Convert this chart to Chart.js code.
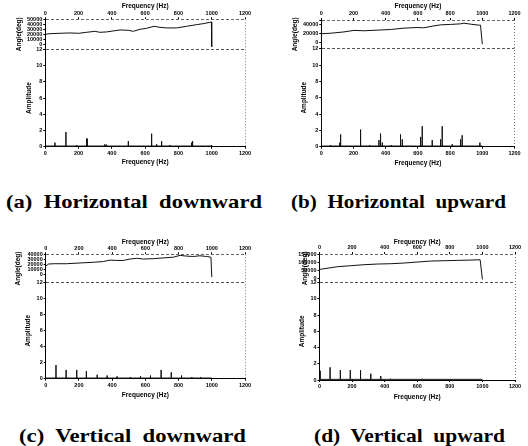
<!DOCTYPE html>
<html><head><meta charset="utf-8">
<script src="https://cdn.jsdelivr.net/npm/chart.js@4.4.1/dist/chart.umd.min.js"></script>
<style>
html,body{margin:0;padding:0;background:#fff;width:528px;height:446px;overflow:hidden;position:relative}
.p{position:absolute}
.p canvas{display:block}
.cap{position:absolute;font-family:"Liberation Serif","Times New Roman",serif;font-weight:bold;font-size:19px;line-height:20px;white-space:pre;color:#000;transform-origin:0 50%}
</style></head><body>
<div class="p" id="pa" style="left:0;top:0"><canvas id="ca"></canvas></div>
<div class="p" id="pb" style="left:264px;top:0"><canvas id="cb"></canvas></div>
<div class="p" id="pc" style="left:0;top:236px"><canvas id="cc"></canvas></div>
<div class="p" id="pd" style="left:264px;top:236px"><canvas id="cd"></canvas></div>
<div class="cap" id="capA" style="left:6px;top:192px">(a)  Horizontal  downward</div>
<div class="cap" id="capB" style="left:291px;top:192px">(b)  Horizontal  upward</div>
<div class="cap" id="capC" style="left:19px;top:426px">(c)  Vertical  downward</div>
<div class="cap" id="capD" style="left:314px;top:426px">(d)  Vertical  upward</div>
<script>
// ---------- data ----------
const freqTicks = [0, 200, 400, 600, 800, 1000, 1200];
const ampTicks = [0, 2, 4, 6, 8, 10, 12];
const noiseFloor = 0.08;
const noiseEnd = 1000;

// (a) Horizontal downward
const aAngleFreq = [0, 28, 88, 148, 200, 248, 298, 328, 368, 419, 449, 499, 529, 569, 609, 653, 689, 729, 789, 849, 909, 949, 990, 998, 1000];
const aAngleDeg  = [20000, 21300, 22000, 22700, 22000, 24000, 26000, 24000, 24700, 27300, 28700, 28000, 26000, 30000, 32000, 36000, 34000, 32700, 32700, 36000, 39300, 41300, 44000, 44700, -5000];
const aAngleTicks = [-10000, 0, 10000, 20000, 30000, 40000, 50000];
const aAngleLabels = [0, 10000, 20000, 30000, 40000, 50000];
const aSpikeFreq = [58, 124, 188, 248, 252, 358, 368, 499, 639, 669, 699, 749, 879, 885, 999];
const aSpikeAmp  = [0.5, 1.8, 0.2, 1.0, 1.0, 0.3, 0.25, 0.7, 1.6, 0.3, 0.7, 0.2, 0.5, 0.7, 0.2];

// (b) Horizontal upward
const bAngleFreq = [0, 58, 141, 203, 265, 348, 430, 513, 596, 637, 689, 741, 803, 865, 886, 927, 979, 989, 1000];
const bAngleDeg  = [19000, 20000, 23000, 26500, 25600, 27000, 28500, 31500, 33000, 32300, 36000, 39000, 40000, 41300, 42800, 40600, 38300, 38300, -5000];
const bAngleTicks = [-15000, 0, 20000, 40000, 50000];
const bAngleLabels = [0, 20000, 40000];
const bSpikeFreq = [0, 58, 115, 120, 244, 300, 358, 368, 379, 435, 492, 503, 617, 627, 689, 741, 751, 813, 865, 875, 985];
const bSpikeAmp  = [6.8, 0.2, 0.5, 1.5, 2.1, 0.2, 0.8, 1.6, 0.5, 0.2, 1.5, 0.9, 1.2, 2.5, 0.8, 0.9, 2.5, 0.3, 0.9, 1.4, 0.5];

// (c) Vertical downward
const cAngleFreq = [0, 16, 46, 126, 207, 287, 347, 387, 428, 468, 508, 548, 588, 648, 708, 769, 809, 849, 889, 929, 969, 995, 1000];
const cAngleDeg  = [16400, 20700, 21400, 21400, 22900, 24300, 25700, 28600, 27900, 27900, 30700, 32100, 30700, 31400, 32900, 34300, 37900, 36400, 35700, 37100, 35700, 34300, -5000];
const cAngleTicks = [-16000, 0, 10000, 20000, 30000, 40000];
const cAngleLabels = [0, 10000, 20000, 30000, 40000];
const cSpikeFreq = [62, 123, 187, 245, 310, 370, 430, 510, 571, 631, 695, 756, 818, 880, 933];
const cSpikeAmp  = [1.7, 1.1, 1.1, 0.95, 0.5, 0.4, 0.3, 0.2, 0.3, 0.4, 1.1, 0.8, 0.4, 0.2, 0.2];

// (d) Vertical upward
const dAngleFreq = [0, 27, 109, 191, 273, 355, 437, 519, 601, 683, 765, 847, 929, 986, 1000];
const dAngleDeg  = [56000, 60000, 72400, 78600, 84700, 88800, 90800, 94900, 101000, 107000, 109000, 111000, 113000, 115000, -5000];
const dAngleTicks = [-25000, 0, 50000, 100000, 150000];
const dAngleLabels = [0, 50000, 100000, 150000];
const dSpikeFreq = [4, 65, 128, 189, 252, 315, 376, 437, 498, 570, 630, 700, 763, 824];
const dSpikeAmp  = [1.15, 1.56, 1.23, 1.23, 1.2, 0.78, 0.5, 0.15, 0.1, 0.1, 0.15, 0.1, 0.1, 0.05];

// ---------- layout (pixels inside each panel canvas) ----------
const panels = [
  {id:'ca', w:264, h:168, plotL:45.3, plotR:245,   plotT:19.3, split:49.3, plotB:146.7, angTitleX:19, ampTitleX:29,
   angleFreq:aAngleFreq, angleDeg:aAngleDeg, angleTicks:aAngleTicks, angleLabels:aAngleLabels, spikeFreq:aSpikeFreq, spikeAmp:aSpikeAmp},
  {id:'cb', w:264, h:169, plotL:57.3, plotR:250.5, plotT:20,   split:48.7, plotB:146.7, angTitleX:31, ampTitleX:40,
   angleFreq:bAngleFreq, angleDeg:bAngleDeg, angleTicks:bAngleTicks, angleLabels:bAngleLabels, spikeFreq:bSpikeFreq, spikeAmp:bSpikeAmp},
  {id:'cc', w:264, h:165, plotL:45.7, plotR:245,   plotT:18.3, split:46.7, plotB:142.7, angTitleX:18, ampTitleX:28,
   angleFreq:cAngleFreq, angleDeg:cAngleDeg, angleTicks:cAngleTicks, angleLabels:cAngleLabels, spikeFreq:cSpikeFreq, spikeAmp:cSpikeAmp},
  {id:'cd', w:264, h:167, plotL:55.5, plotR:251,   plotT:18,   split:46.7, plotB:144,   angTitleX:41, ampTitleX:38,
   angleFreq:dAngleFreq, angleDeg:dAngleDeg, angleTicks:dAngleTicks, angleLabels:dAngleLabels, spikeFreq:dSpikeFreq, spikeAmp:dSpikeAmp}
];

const FONT = '"Liberation Sans", Arial, sans-serif';
const tickFontX = {family:FONT, size:5.5, weight:'bold'};
const tickFontY = {family:FONT, size:5.5, weight:'bold'};
const titleFont = {family:FONT, size:6.5, weight:'bold'};

function spikePoints(freqs, amps) {
  const pts = [{x:0, y:noiseFloor}];
  freqs.forEach((f, i) => { pts.push({x:f, y:noiseFloor}, {x:f, y:amps[i]}, {x:f, y:noiseFloor}); });
  pts.push({x:noiseEnd, y:noiseFloor});
  return pts;
}
const fixTicks = vals => s => { s.ticks = vals.map(v => ({value:v})); };

function makePanel(p) {
  const cv = document.getElementById(p.id);
  cv.width = p.w; cv.height = p.h;
  cv.style.width = p.w + 'px'; cv.style.height = p.h + 'px';
  const aMin = p.angleTicks[0], aMax = p.angleTicks[p.angleTicks.length - 1];
  new Chart(cv, {
    type: 'line',
    data: {datasets: [
      {data: p.angleFreq.map((f, i) => ({x:f, y:p.angleDeg[i]})), xAxisID:'x', yAxisID:'yA',
       borderColor:'#111', borderWidth:1, pointRadius:0, tension:0, fill:false},
      {data: spikePoints(p.spikeFreq, p.spikeAmp), xAxisID:'x', yAxisID:'yB',
       borderColor:'#111', borderWidth:1, pointRadius:0, tension:0, fill:false}
    ]},
    options: {
      responsive:false, animation:false, events:[], devicePixelRatio:1,
      layout:{padding:{left:0, right:p.w - p.plotR, top:0, bottom:0}},
      plugins:{legend:{display:false}, tooltip:{enabled:false}},
      scales: {
        yB: {type:'linear', position:'left', stack:'s', stackWeight:p.plotB - p.split, min:0, max:12,
             afterBuildTicks:fixTicks(ampTicks), afterFit:s => { s.width = p.plotL; },
             ticks:{font:tickFontY, color:'#000', autoSkip:false, padding:1},
             grid:{color:c => (c.tick && c.tick.value === 12) ? '#555' : 'rgba(0,0,0,0)', tickColor:'#000', tickLength:2, lineWidth:1},
             border:{display:true, color:'#000', width:1, dash:[3,2]},
             title:{display:true, text:'Amplitude', font:titleFont, color:'#000', padding:{top:p.ampTitleX - 3.9, bottom:0}}},
        yA: {type:'linear', position:'left', stack:'s', stackWeight:p.split - p.plotT, min:aMin, max:aMax,
             afterBuildTicks:fixTicks(p.angleTicks), afterFit:s => { s.width = p.plotL; },
             ticks:{font:tickFontY, color:'#000', autoSkip:false, padding:1,
                    callback:v => p.angleLabels.includes(v) ? String(v) : ''},
             grid:{color:c => (c.tick && c.tick.value === aMax) ? '#666' : 'rgba(0,0,0,0)', tickColor:'#000', tickLength:2, lineWidth:1},
             border:{display:true, color:'#000', width:1, dash:[3,2]},
             title:{display:true, text:'Angle(deg)', font:titleFont, color:'#000', padding:{top:p.angTitleX - 3.9, bottom:0}}},
        x: {type:'linear', position:'bottom', min:0, max:1200,
            afterBuildTicks:fixTicks(freqTicks), afterFit:s => { s.height = p.h - p.plotB; },
            ticks:{font:tickFontX, color:'#000', autoSkip:false, maxRotation:0, padding:1, callback:v => String(v)},
            grid:{color:c => (c.tick && c.tick.value === 1200) ? '#777' : 'rgba(0,0,0,0)', tickColor:'#000', tickLength:2, lineWidth:1},
            border:{display:true, color:'#000', width:1, dash:[1,2]},
            title:{display:true, text:'Frequency (Hz)', font:titleFont, color:'#000', padding:{top:0, bottom:2}}},
        x2: {type:'linear', position:'top', min:0, max:1200,
             afterBuildTicks:fixTicks(freqTicks), afterFit:s => { s.height = p.plotT; },
             ticks:{font:tickFontX, color:'#000', autoSkip:false, maxRotation:0, padding:1, callback:v => String(v)},
             grid:{drawOnChartArea:false, color:'#000', tickColor:'#000', tickLength:2},
             border:{display:false},
             title:{display:true, text:'Frequency (Hz)', font:titleFont, color:'#000', padding:{top:2, bottom:0}}}
      }
    }
  });
}
panels.forEach(makePanel);

// stretch captions to the reference widths
const capWidths = {capA:256, capB:215, capC:227, capD:191};
Object.keys(capWidths).forEach(id => {
  const el = document.getElementById(id);
  const w = el.getBoundingClientRect().width;
  el.style.transform = 'scaleX(' + (capWidths[id] / w) + ')';
});
</script>
</body></html>
